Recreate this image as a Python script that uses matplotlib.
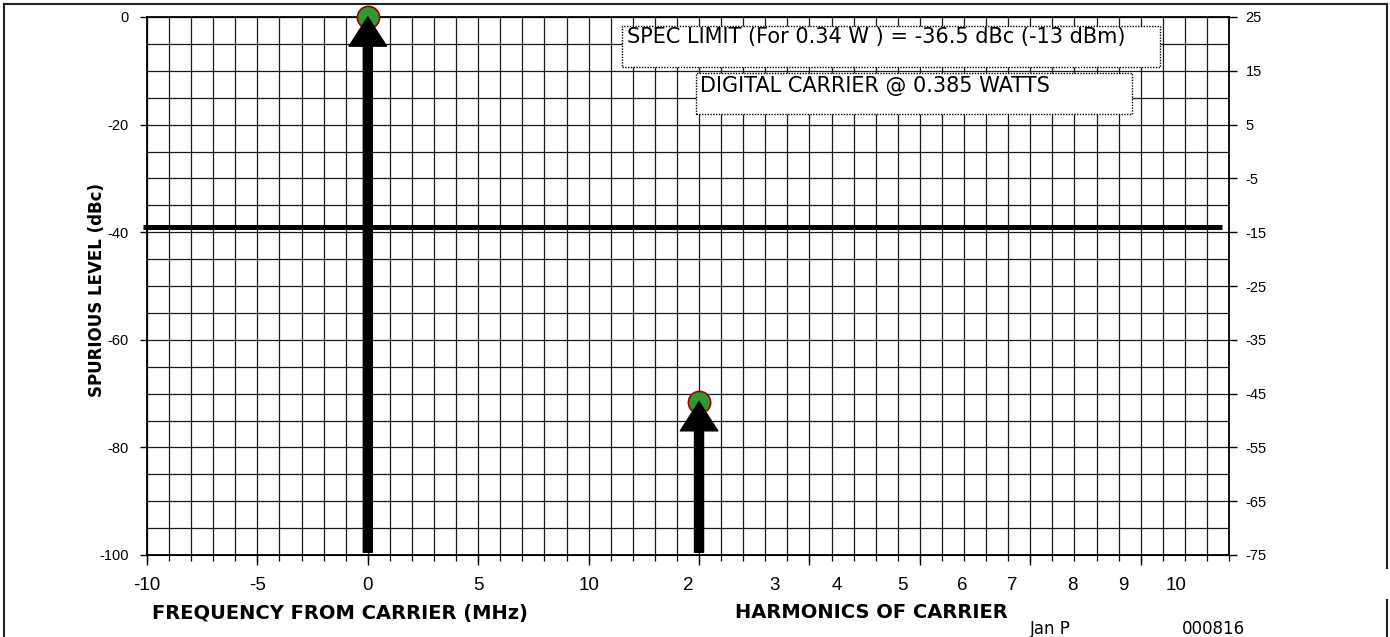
import matplotlib
matplotlib.use("Agg")
import matplotlib.pyplot as plt
from matplotlib.ticker import MultipleLocator
from matplotlib.patches import Rectangle
from matplotlib.lines import Line2D

plt.rcParams['font.family'] = ['Liberation Sans', 'DejaVu Sans']
plt.rcParams['axes.unicode_minus'] = False
WIDE = ['DejaVu Sans']  # wider face stands in for the letter-spaced Arial

# DATA
freq_ticks = [-10, -5, 0, 5, 10]
harm_labels = ['2', '3', '4', '5', '6', '7', '8', '9', '10']
harm_pos = [14.5, 18.4, 21.25, 24.2, 26.9, 29.2, 31.9, 34.2, 36.6]
spur_x = [0, 15]
spur_y = [0, -71.5]
spec_y = -39
spec_x = [-10.2, 38.7]
right_ticks = [25, 15, 5, -5, -15, -25, -35, -45, -55, -65, -75]

fig = plt.figure(figsize=(13.9, 6.37), dpi=100)
ax = fig.add_axes([147/1390, 1-555/637, (1229-147)/1390, (555-17)/637])

ax.set_xlim(-10, 39)
ax.set_ylim(-100, 0)

# grid
ax.xaxis.set_minor_locator(MultipleLocator(1))
ax.xaxis.remove_overlapping_locs = False
ax.yaxis.set_minor_locator(MultipleLocator(5))
ax.set_yticks(range(-100, 1, 20))
ax.xaxis.grid(True, which='minor', color='#1a1a1a', lw=0.9)
ax.yaxis.grid(True, which='both', color='#1a1a1a', lw=0.9)
ax.set_axisbelow(True)

# x tick labels (frequency + harmonics)
ax.set_xticks(freq_ticks + harm_pos)
ax.set_xticklabels([str(v) for v in freq_ticks] + harm_labels)
ax.tick_params(axis='x', which='major', length=0, pad=16, labelsize=13.5)
ax.tick_params(axis='x', which='minor', length=4, width=0.9, direction='out')
ax.tick_params(axis='y', which='major', length=5, width=1, pad=8, labelsize=10.5)
ax.tick_params(axis='y', which='minor', length=0)

sec = ax.secondary_xaxis('bottom')
sec.set_xticks(range(-10, 40, 5))
sec.tick_params(length=7, width=1, labelbottom=False)

for s in ax.spines.values():
    s.set_color('black')
    s.set_linewidth(1.3)

# right axis
ax2 = ax.twinx()
ax2.set_ylim(-75, 25)
ax2.set_yticks(right_ticks)
ax2.tick_params(axis='y', length=6, width=1, pad=6, labelsize=10.5)
for s in ax2.spines.values():
    s.set_visible(False)

# spec limit line
ax.plot(spec_x, [spec_y, spec_y], color='black', lw=3.6, clip_on=False, zorder=3,
        solid_capstyle='butt')

# spurs: markers + arrows
ax.plot(spur_x, spur_y, 'o', ms=16, mfc='#2f9a2f', mec='#a00000', mew=1.2,
        clip_on=False, zorder=4)
for x, y in zip(spur_x, spur_y):
    ax.annotate('', xy=(x, y), xytext=(x, -99.5),
                arrowprops=dict(facecolor='black', edgecolor='black', width=6.5,
                                headwidth=27, headlength=21, shrink=0),
                zorder=5)

# text boxes
def note(x0, y0, x1, y1, tx, ty, s):
    fig.patches.append(Rectangle((x0/1390, 1-y1/637), (x1-x0)/1390, (y1-y0)/637,
                                 transform=fig.transFigure, fc='white', ec='black',
                                 lw=1, ls=(0, (1, 1)), zorder=6))
    fig.text(tx/1390, 1-ty/637, s, fontsize=15, family=WIDE, ha='left',
             va='center', zorder=7)

note(622, 26, 1160, 67, 627, 37, 'SPEC LIMIT (For 0.34 W ) = -36.5 dBc (-13 dBm)')
note(696, 73, 1132, 114, 700, 86, 'DIGITAL CARRIER @ 0.385 WATTS')

# axis labels
fig.text(97/1390, 1-290/637, 'SPURIOUS LEVEL (dBc)', rotation=90, fontsize=12,
         family=WIDE, fontweight='bold', ha='center', va='center')
fig.text(152/1390, 1-613/637, 'FREQUENCY FROM CARRIER (MHz)', fontsize=14,
         family=WIDE, fontweight='bold', ha='left', va='center')
fig.text(735/1390, 1-613/637, 'HARMONICS OF CARRIER', fontsize=14,
         family=WIDE, fontweight='bold', ha='left', va='center')

# footer (cut off at the bottom in the original)
fig.text(1030/1390, 1-634/637, 'Jan P', fontsize=12, family=WIDE, ha='left', va='baseline')
fig.text(1182/1390, 1-634/637, '000816', fontsize=12, family=WIDE, ha='left', va='baseline')

# figure border
bx0, bx1, by0 = 4/1390, 1386.5/1390, 1-4/637
fig.lines.append(Line2D([bx0, bx1], [by0, by0], transform=fig.transFigure, color='#222222', lw=1.5))
fig.lines.append(Line2D([bx0, bx0], [by0, -0.01], transform=fig.transFigure, color='#222222', lw=1.5))
fig.lines.append(Line2D([bx1, bx1], [by0, 1-568/637], transform=fig.transFigure, color='#222222', lw=1.5))
fig.lines.append(Line2D([bx1, bx1], [1-600/637, -0.01], transform=fig.transFigure, color='#222222', lw=1.5))

fig.savefig('out.png', dpi=100)
